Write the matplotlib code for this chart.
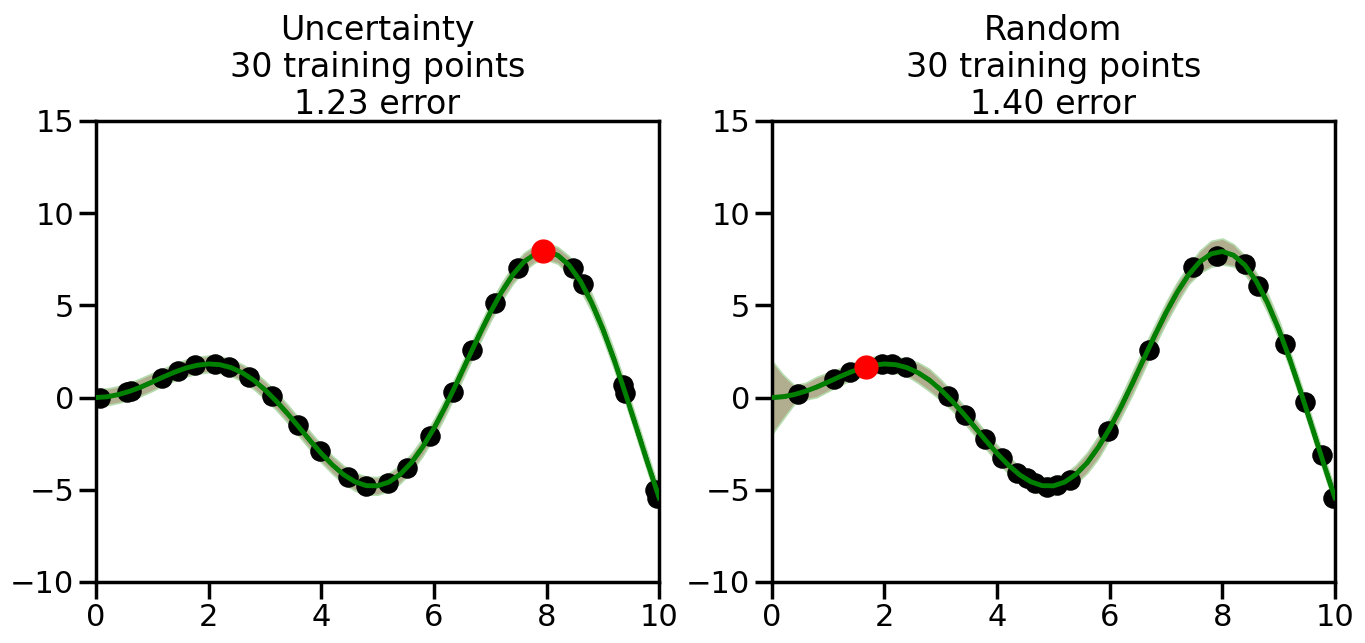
import numpy as np
import matplotlib
matplotlib.use("Agg")
import matplotlib.pyplot as plt

# grid for curves (step 0.2)
x_grid = [round(0.2 * i, 1) for i in range(51)]
mean_curve = [0.00, 0.04, 0.16, 0.34, 0.57, 0.84, 1.12, 1.38, 1.60, 1.75,
              1.82, 1.78, 1.62, 1.34, 0.94, 0.42, -0.19, -0.87, -1.59, -2.33,
              -3.03, -3.66, -4.19, -4.57, -4.78, -4.79, -4.59, -4.17, -3.54, -2.69,
              -1.68, -0.52, 0.75, 2.06, 3.36, 4.60, 5.71, 6.65, 7.36, 7.79,
              7.92, 7.71, 7.18, 6.32, 5.15, 3.71, 2.05, 0.23, -1.67, -3.59, -5.44]
true_curve = mean_curve

band_uncert = [0.45, 0.45, 0.45, 0.45, 0.48, 0.48, 0.45, 0.45, 0.45, 0.45,
               0.45, 0.45, 0.45, 0.45, 0.48, 0.48, 0.48, 0.48, 0.48, 0.48,
               0.48, 0.48, 0.48, 0.48, 0.48, 0.48, 0.48, 0.48, 0.48, 0.48,
               0.48, 0.48, 0.48, 0.48, 0.48, 0.48, 0.48, 0.48, 0.48, 0.45,
               0.45, 0.45, 0.48, 0.48, 0.48, 0.50, 0.50, 0.48, 0.48, 0.48, 0.45]
band_random = [2.00, 1.20, 0.50, 0.45, 0.55, 0.50, 0.45, 0.45, 0.45, 0.45,
               0.45, 0.45, 0.45, 0.55, 0.60, 0.55, 0.50, 0.45, 0.45, 0.45,
               0.45, 0.45, 0.45, 0.45, 0.45, 0.45, 0.45, 0.50, 0.55, 0.60,
               0.55, 0.55, 0.60, 0.60, 0.55, 0.55, 0.55, 0.50, 0.60, 0.70,
               0.70, 0.60, 0.50, 0.45, 0.50, 0.50, 0.45, 0.45, 0.45, 0.45, 0.45]

# training points
unc_x = [0.07, 0.55, 0.62, 1.17, 1.46, 1.76, 2.11, 2.36, 2.72, 3.12, 3.59, 3.98,
         4.48, 4.80, 5.19, 5.52, 5.93, 6.34, 6.68, 7.09, 7.50, 8.47, 8.65,
         9.36, 9.40, 9.93, 9.97]
unc_y = [0.0, 0.3, 0.35, 1.05, 1.45, 1.75, 1.8, 1.65, 1.1, 0.1, -1.5, -2.9,
         -4.3, -4.8, -4.63, -3.8, -2.08, 0.3, 2.6, 5.1, 7.0, 7.0, 6.15,
         0.7, 0.25, -5.0, -5.45]
unc_new = (7.94, 7.95)

rnd_x = [0.46, 1.10, 1.39, 1.95, 2.13, 2.38, 3.13, 3.43, 3.78, 4.09, 4.35, 4.53,
         4.67, 4.88, 5.06, 5.30, 5.97, 6.70, 7.48, 7.90, 8.40, 8.63, 9.11, 9.47,
         9.77, 9.96]
rnd_y = [0.2, 1.0, 1.4, 1.8, 1.8, 1.65, 0.1, -0.95, -2.25, -3.28, -4.1, -4.35,
         -4.63, -4.85, -4.75, -4.5, -1.8, 2.6, 7.05, 7.7, 7.25, 6.05, 2.9, -0.25,
         -3.1, -5.45]
rnd_new = (1.67, 1.65)

titles = ["Uncertainty\n30 training points\n1.23 error",
          "Random\n30 training points\n1.40 error"]
x_ticks = [0, 2, 4, 6, 8, 10]
y_ticks = [-10, -5, 0, 5, 10, 15]

plt.rcParams['font.family'] = ['DejaVu Sans']
fig, axes = plt.subplots(1, 2, figsize=(13.65, 6.43), dpi=100)
fig.subplots_adjust(left=0.0703, right=0.978, bottom=0.095, top=0.812, wspace=0.2)

panels = [(band_uncert, unc_x, unc_y, unc_new), (band_random, rnd_x, rnd_y, rnd_new)]
xg = np.array(x_grid)
mc = np.array(mean_curve)
for ax, (band, px, py, new), title in zip(axes, panels, titles):
    b = np.array(band)
    ax.fill_between(xg, mc - b, mc + b, facecolor='#b0ae8e', edgecolor='#b5dcae',
                    linewidth=1.2, zorder=1)
    ax.plot(xg, true_curve, color='black', linestyle='--', linewidth=3, zorder=2)
    ax.scatter(px, py, s=190, color='black', zorder=3)
    ax.plot(xg, mc, color='green', linewidth=3.5, zorder=4)
    ax.scatter([new[0]], [new[1]], s=270, color='red', zorder=5)
    ax.set_xlim(0, 10)
    ax.set_ylim(-10, 15)
    ax.set_xticks(x_ticks)
    ax.set_yticks(y_ticks)
    ax.tick_params(labelsize=22, width=2.5, length=12)
    for sp in ax.spines.values():
        sp.set_linewidth(2.5)
    ax.set_title(title, fontsize=24, linespacing=1.15, pad=4)

fig.savefig("out.png", dpi=100)
